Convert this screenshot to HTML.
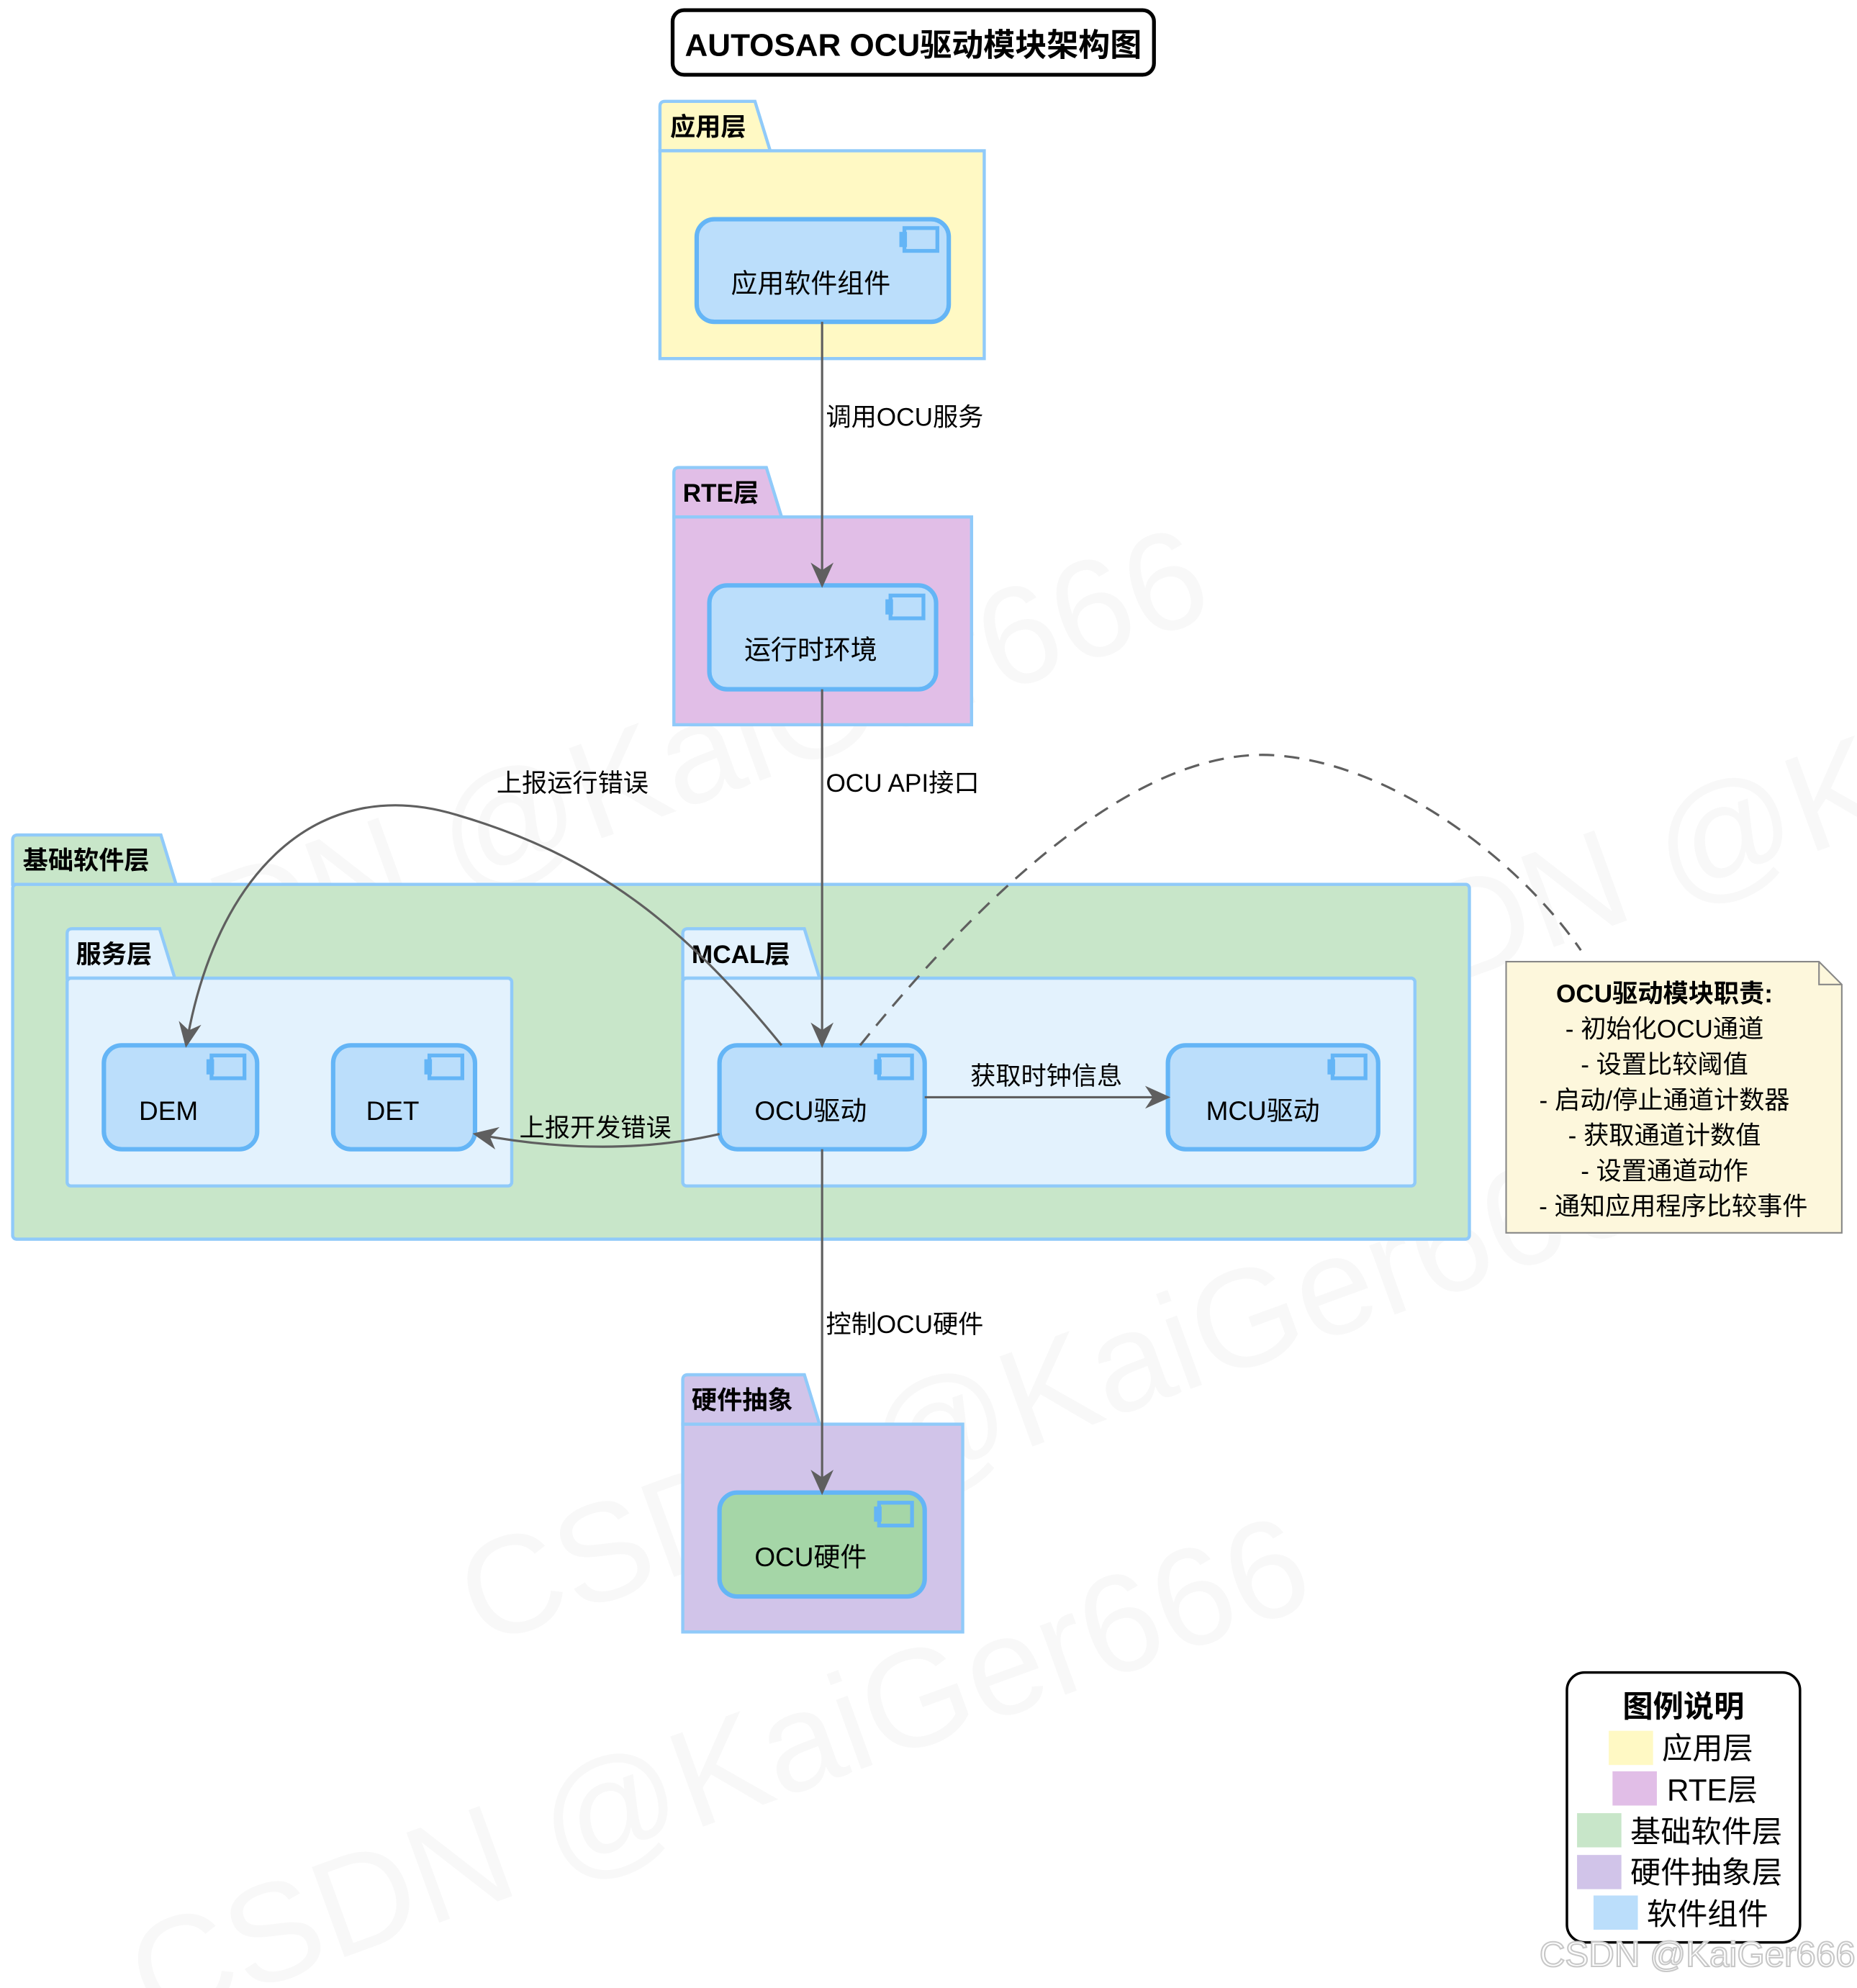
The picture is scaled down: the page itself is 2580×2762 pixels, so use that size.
<!DOCTYPE html>
<html><head><meta charset="utf-8"><style>
html,body{margin:0;padding:0;background:#fff}
svg{display:block}
text{font-family:"Liberation Sans","Noto Sans CJK SC",sans-serif;fill:#000}
</style></head><body>
<svg width="2580" height="2762" viewBox="0 0 1466 1569" preserveAspectRatio="none" xmlns="http://www.w3.org/2000/svg">
<defs>
<marker id="ah" viewBox="0 0 20 20" refX="18" refY="10" markerWidth="20" markerHeight="20" orient="auto" markerUnits="userSpaceOnUse">
<path d="M0,1 L20,10 L0,19 L6,10 Z" fill="#5f5f5f"/></marker>
<g id="icon"><rect x="4" y="0" width="26" height="18" fill="none" stroke="#64b5f6" stroke-width="3"/><rect x="0" y="3" width="6" height="12" fill="#64b5f6"/></g>
</defs>
<!-- watermarks -->
<g font-size="110">
<text x="40" y="820" transform="rotate(-20 40 820)" style="fill:#000;opacity:0.025">CSDN @KaiGer666</text>
<text x="380" y="1300" transform="rotate(-20 380 1300)" style="fill:#000;opacity:0.025">CSDN @KaiGer666</text>
<text x="120" y="1600" transform="rotate(-20 120 1600)" style="fill:#000;opacity:0.025">CSDN @KaiGer666</text>
<text x="1000" y="830" transform="rotate(-20 1000 830)" style="fill:#000;opacity:0.025">CSDN @K</text>
</g>
<!-- title -->
<rect x="531" y="8" width="380" height="51" rx="9" fill="#fff" stroke="#000" stroke-width="3"/>
<text x="721" y="44" text-anchor="middle" font-size="25" font-weight="bold">AUTOSAR OCU驱动模块架构图</text>

<!-- 应用层 -->
<path d="M521,119 V84 Q521,80 525,80 H596 L608,119 Z" fill="#fff9c4" stroke="#90caf9" stroke-width="2.5"/>
<rect x="521" y="119" width="256" height="164" fill="#fff9c4" stroke="#90caf9" stroke-width="2.5"/>
<text x="529" y="107" font-size="20" font-weight="bold">应用层</text>
<rect x="550" y="173" width="199" height="81" rx="14" fill="#bbdefb" stroke="#64b5f6" stroke-width="3.5"/>
<use href="#icon" x="710" y="180"/>
<text x="640" y="231" text-anchor="middle" font-size="21">应用软件组件</text>

<!-- RTE -->
<path d="M532,408 V373 Q532,369 536,369 H605 L617,408 Z" fill="#e1bee7" stroke="#90caf9" stroke-width="2.5"/>
<rect x="532" y="408" width="235" height="164" fill="#e1bee7" stroke="#90caf9" stroke-width="2.5"/>
<text x="539" y="396" font-size="20" font-weight="bold">RTE层</text>
<rect x="560" y="462" width="179" height="82" rx="14" fill="#bbdefb" stroke="#64b5f6" stroke-width="3.5"/>
<use href="#icon" x="699" y="470"/>
<text x="640" y="520" text-anchor="middle" font-size="21">运行时环境</text>

<!-- 基础软件层 -->
<path d="M10,698 V663 Q10,659 14,659 H127 L139,698 Z" fill="#c8e6c9" stroke="#90caf9" stroke-width="2.5"/>
<rect x="10" y="698" width="1150" height="280" rx="3" fill="#c8e6c9" stroke="#90caf9" stroke-width="2.5"/>
<text x="18" y="686" font-size="20" font-weight="bold">基础软件层</text>

<!-- 服务层 -->
<path d="M53,772 V737 Q53,733 57,733 H126 L138,772 Z" fill="#e3f2fd" stroke="#90caf9" stroke-width="2.5"/>
<rect x="53" y="772" width="351" height="164" rx="3" fill="#e3f2fd" stroke="#90caf9" stroke-width="2.5"/>
<text x="60" y="760" font-size="20" font-weight="bold">服务层</text>

<!-- MCAL -->
<path d="M539,772 V737 Q539,733 543,733 H635 L647,772 Z" fill="#e3f2fd" stroke="#90caf9" stroke-width="2.5"/>
<rect x="539" y="772" width="578" height="164" rx="3" fill="#e3f2fd" stroke="#90caf9" stroke-width="2.5"/>
<text x="546" y="760" font-size="20" font-weight="bold">MCAL层</text>

<rect x="82" y="825" width="121" height="82" rx="14" fill="#bbdefb" stroke="#64b5f6" stroke-width="3.5"/>
<use href="#icon" x="163" y="833"/>
<text x="133" y="884" text-anchor="middle" font-size="21">DEM</text>
<rect x="263" y="825" width="112" height="82" rx="14" fill="#bbdefb" stroke="#64b5f6" stroke-width="3.5"/>
<use href="#icon" x="335" y="833"/>
<text x="310" y="884" text-anchor="middle" font-size="21">DET</text>
<rect x="568" y="825" width="162" height="82" rx="14" fill="#bbdefb" stroke="#64b5f6" stroke-width="3.5"/>
<use href="#icon" x="690" y="833"/>
<text x="640" y="884" text-anchor="middle" font-size="21">OCU驱动</text>
<rect x="922" y="825" width="166" height="82" rx="14" fill="#bbdefb" stroke="#64b5f6" stroke-width="3.5"/>
<use href="#icon" x="1048" y="833"/>
<text x="997" y="884" text-anchor="middle" font-size="21">MCU驱动</text>

<!-- 硬件抽象 -->
<path d="M539,1124 V1089 Q539,1085 543,1085 H635 L647,1124 Z" fill="#d1c4e9" stroke="#90caf9" stroke-width="2.5"/>
<rect x="539" y="1124" width="221" height="164" fill="#d1c4e9" stroke="#90caf9" stroke-width="2.5"/>
<text x="546" y="1112" font-size="20" font-weight="bold">硬件抽象</text>
<rect x="568" y="1178" width="162" height="82" rx="14" fill="#a5d6a7" stroke="#64b5f6" stroke-width="3.5"/>
<use href="#icon" x="690" y="1186"/>
<text x="640" y="1236" text-anchor="middle" font-size="21">OCU硬件</text>

<!-- connectors -->
<g stroke="#5f5f5f" stroke-width="1.8" fill="none">
<line x1="649" y1="254" x2="649" y2="462" marker-end="url(#ah)"/>
<line x1="649" y1="544" x2="649" y2="825" marker-end="url(#ah)"/>
<line x1="649" y1="907" x2="649" y2="1178" marker-end="url(#ah)"/>
<line x1="730" y1="866" x2="922" y2="866" marker-end="url(#ah)"/>
<path d="M568,895 Q480,915 375,895" marker-end="url(#ah)"/>
<path d="M617,825 C540,730 470,675 360,643 C250,610 170,690 147,825" marker-end="url(#ah)"/>
<path d="M679,825 C780,700 900,590 1005,596 C1100,602 1200,680 1248,750" stroke-dasharray="12,8"/>
</g>
<g font-size="20">
<text x="652" y="336">调用OCU服务</text>
<text x="652" y="625">OCU API接口</text>
<text x="392" y="625">上报运行错误</text>
<text x="826" y="856" text-anchor="middle">获取时钟信息</text>
<text x="410" y="897">上报开发错误</text>
<text x="652" y="1052">控制OCU硬件</text>
</g>

<!-- note -->
<path d="M1189,759 H1436 L1454,777 V973 H1189 Z" fill="#fdf7dc" stroke="#888" stroke-width="1.2"/>
<path d="M1436,759 V777 H1454" fill="none" stroke="#888" stroke-width="1.2"/>
<g font-size="20" text-anchor="middle">
<text x="1314" y="791" font-weight="bold">OCU驱动模块职责:</text>
<text x="1314" y="819">- 初始化OCU通道</text>
<text x="1314" y="847">- 设置比较阈值</text>
<text x="1314" y="875">- 启动/停止通道计数器</text>
<text x="1314" y="903">- 获取通道计数值</text>
<text x="1314" y="931">- 设置通道动作</text>
<text x="1321" y="959">- 通知应用程序比较事件</text>
</g>

<!-- legend -->
<rect x="1237" y="1320" width="184" height="213" rx="14" fill="#fff" stroke="#000" stroke-width="2"/>
<text x="1329" y="1355" text-anchor="middle" font-size="24" font-weight="bold">图例说明</text>
<g font-size="24">
<rect x="1270" y="1366" width="35" height="27" fill="#fff9c4"/><text x="1312" y="1388">应用层</text>
<rect x="1273" y="1398" width="35" height="27" fill="#e1bee7"/><text x="1316" y="1421">RTE层</text>
<rect x="1245" y="1431" width="35" height="27" fill="#c8e6c9"/><text x="1287" y="1454">基础软件层</text>
<rect x="1245" y="1464" width="35" height="27" fill="#d1c4e9"/><text x="1287" y="1486">硬件抽象层</text>
<rect x="1258" y="1496" width="35" height="27" fill="#bbdefb"/><text x="1300" y="1519">软件组件</text>
</g>
<text x="1340" y="1552" text-anchor="middle" font-size="28" style="fill:#fff;stroke:#c8c8c8;stroke-width:1.2">CSDN @KaiGer666</text>
</svg>
</body></html>
